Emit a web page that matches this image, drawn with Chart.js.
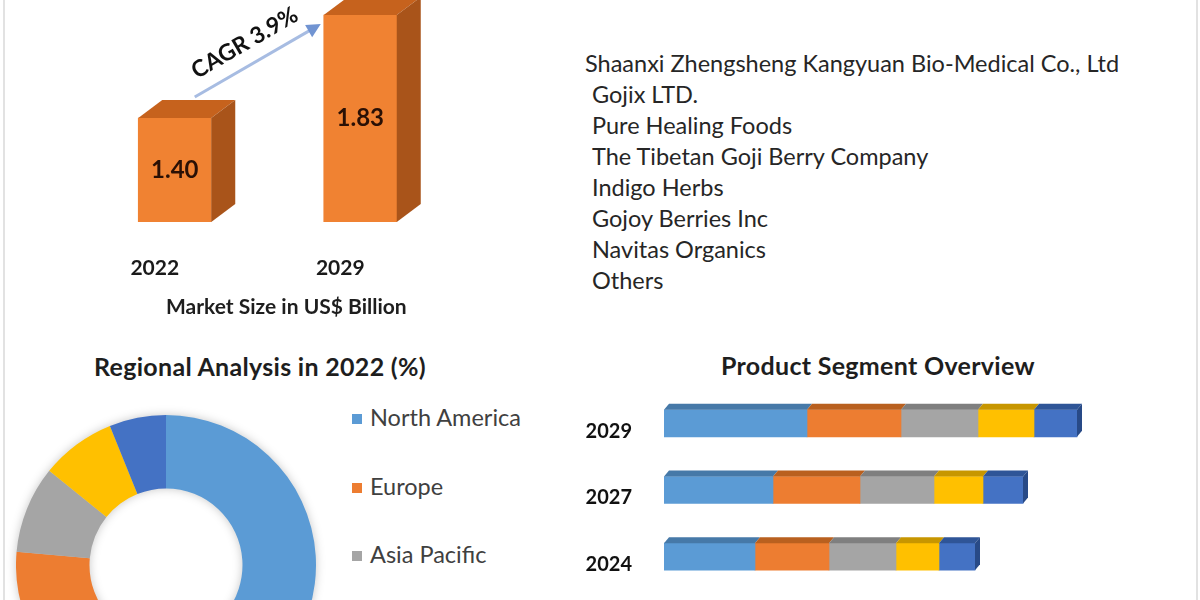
<!DOCTYPE html>
<html>
<head>
<meta charset="utf-8">
<title>Goji Berry Market</title>
<script src="https://cdn.jsdelivr.net/npm/chart.js@4.4.0/dist/chart.umd.min.js"></script>
<style>
html, body { margin: 0; padding: 0; width: 1200px; height: 600px; overflow: hidden; background: #fff; }
body { position: relative; font-family: Lato, "Open Sans", sans-serif; color: #262626; }
.abs { position: absolute; }
.edge { position: absolute; top: 0; width: 2px; height: 600px; background: #e2e2e2; }
.company { position: absolute; font-size: 23.5px; line-height: 30px; white-space: nowrap; color: #262626; }
.heading { position: absolute; font-weight: bold; font-size: 25px; letter-spacing: 0.3px; white-space: nowrap; color: #1e1e1e; }
.axis-title { position: absolute; font-weight: bold; font-size: 21px; white-space: nowrap; color: #1e1e1e; }
.legend-item { position: absolute; font-size: 23.5px; line-height: 30px; white-space: nowrap; color: #404040; }
.legend-item span { display: inline-block; width: 10px; height: 10px; margin-right: 8px; vertical-align: 2px; }
#regionCanvas { filter: drop-shadow(0 0 5px rgba(0,0,0,0.22)); }
</style>
</head>
<body>
<div class="edge" style="left:3px"></div>
<div class="edge" style="left:1196px"></div>

<canvas id="sizeCanvas" class="abs" width="576" height="330" style="left:0;top:0"></canvas>
<div class="axis-title" style="left:166px;top:293px">Market Size in US$ Billion</div>
<div id="companyList"></div>

<div class="heading" style="left:94px;top:351px">Regional Analysis in 2022 (%)</div>
<canvas id="regionCanvas" class="abs" width="300" height="300" style="left:16px;top:415px"></canvas>
<div id="regionLegend"></div>

<div class="heading" style="left:721px;top:350px">Product Segment Overview</div>
<canvas id="segmentCanvas" class="abs" width="630" height="220" style="left:570px;top:380px"></canvas>

<script>
//размер рынка
const sizeYears = ['2022', '2029'];
const sizeValues = [1.40, 1.83];
const cagrText = 'CAGR 3.9%';

//ключевые игроки
const companies = [
    'Shaanxi Zhengsheng Kangyuan Bio-Medical Co., Ltd',
    'Gojix LTD.',
    'Pure Healing Foods',
    'The Tibetan Goji Berry Company',
    'Indigo Herbs',
    'Gojoy Berries Inc',
    'Navitas Organics',
    'Others'
];

//регионы 2022 (%)
const regions = ['North America', 'Europe', 'Asia Pacific', 'Middle East & Africa', 'South America'];
const regionShares = [48.0, 28.4, 9.4, 8.1, 6.1];

//продуктовые сегменты (относительные величины)
const segmentYears = ['2029', '2027', '2024'];
const segmentNames = ['Segment 1', 'Segment 2', 'Segment 3', 'Segment 4', 'Segment 5'];
const segment1 = [143, 109, 91];
const segment2 = [94, 87, 74];
const segment3 = [77, 74, 67];
const segment4 = [56, 49, 43];
const segment5 = [43, 40, 36];

const officeColors = ['#5B9BD5', '#ED7D31', '#A5A5A5', '#FFC000', '#4472C4'];
const officeDark = ['#4679A8', '#B9601F', '#7F7F7F', '#C79600', '#2F5597'];
const fontFamily = 'Lato, "Open Sans", sans-serif';

//список компаний
const list = document.getElementById('companyList');
companies.forEach((name, i) => {
    const div = document.createElement('div');
    div.className = 'company';
    div.style.left = (i === 0 ? 585 : 592) + 'px';
    div.style.top = (48 + i * 31) + 'px';
    div.textContent = name;
    list.appendChild(div);
});

//3D столбики размера рынка
const box3d = {
    id: 'box3d',
    afterDatasetsDraw(chart) {
        const ctx = chart.ctx;
        const bars = chart.getDatasetMeta(0).data;
        const bottom = chart.chartArea.bottom;
        const dx = 24, dy = 18;
        ctx.save();
        bars.forEach((bar, i) => {
            const half = bar.width / 2;
            const l = bar.x - half, r = bar.x + half, t = bar.y, b = bottom;
            ctx.fillStyle = '#C6621D';
            ctx.beginPath();
            ctx.moveTo(l, t); ctx.lineTo(l + dx, t - dy); ctx.lineTo(r + dx, t - dy); ctx.lineTo(r, t);
            ctx.closePath(); ctx.fill();
            ctx.fillStyle = '#A9541A';
            ctx.beginPath();
            ctx.moveTo(r, t); ctx.lineTo(r + dx, t - dy); ctx.lineTo(r + dx, b - dy); ctx.lineTo(r, b);
            ctx.closePath(); ctx.fill();

            ctx.fillStyle = '#2A1005';
            ctx.font = 'bold 24px ' + fontFamily;
            ctx.textAlign = 'center';
            ctx.textBaseline = 'middle';
            ctx.fillText(sizeValues[i].toFixed(2), bar.x, (t + b) / 2);
        });

        //стрелка CAGR
        const a = bars[0], c = bars[1];
        const x1 = a.x + 20, y1 = a.y - 21;
        const x2 = c.x - c.width / 2 - 3, y2 = c.y + 9;
        const ang = Math.atan2(y2 - y1, x2 - x1);
        ctx.strokeStyle = '#A7BCE2';
        ctx.lineWidth = 3;
        ctx.beginPath();
        ctx.moveTo(x1, y1);
        ctx.lineTo(x2 - 10 * Math.cos(ang), y2 - 10 * Math.sin(ang));
        ctx.stroke();
        ctx.fillStyle = '#7194D2';
        ctx.beginPath();
        ctx.moveTo(x2, y2);
        ctx.lineTo(x2 - 14 * Math.cos(ang) + 7 * Math.sin(ang), y2 - 14 * Math.sin(ang) - 7 * Math.cos(ang));
        ctx.lineTo(x2 - 14 * Math.cos(ang) - 7 * Math.sin(ang), y2 - 14 * Math.sin(ang) + 7 * Math.cos(ang));
        ctx.closePath(); ctx.fill();

        const mx = (x1 + x2) / 2 + 18 * Math.sin(ang) - 4;
        const my = (y1 + y2) / 2 - 18 * Math.cos(ang) - 2;
        ctx.translate(mx, my);
        ctx.rotate(ang);
        ctx.fillStyle = '#111';
        ctx.font = 'bold 23px ' + fontFamily;
        ctx.fillText(cagrText, 0, 0);
        ctx.restore();
    }
};

const sizeChart = new Chart(document.getElementById('sizeCanvas'), {
    type: 'bar',
    data: {
        labels: sizeYears,
        datasets: [{
            label: 'Market Size',
            data: sizeValues,
            backgroundColor: '#F08232',
            barThickness: 73
        }]
    },
    options: {
        responsive: false,
        animation: false,
        layout: { padding: { left: 82, right: 123, top: 0, bottom: 50 } },
        plugins: {
            legend: { display: false },
            tooltip: { enabled: false }
        },
        scales: {
            x: {
                grid: { display: false, drawTicks: false },
                border: { display: false },
                afterFit(scale) {
                    scale.height = 58;
                    scale.paddingTop = 0; scale.paddingBottom = 0;
                },
                ticks: {
                    color: '#1a1a1a',
                    font: { family: fontFamily, size: 21, weight: 'bold' },
                    padding: 34,
                    labelOffset: -20
                }
            },
            y: { display: false, min: 0.966, max: 1.893 }
        }
    },
    plugins: [box3d]
});

//кольцевая диаграмма по регионам
const regionChart = new Chart(document.getElementById('regionCanvas'), {
    type: 'doughnut',
    data: {
        labels: regions,
        datasets: [{
            data: regionShares,
            backgroundColor: officeColors,
            borderWidth: 0,
            hoverOffset: 0
        }]
    },
    options: {
        responsive: false,
        animation: false,
        cutout: '51%',
        plugins: { legend: { display: false }, tooltip: { enabled: false } }
    }
});

const legendBox = document.getElementById('regionLegend');
regions.forEach((name, i) => {
    const top = 402 + i * 68.5;
    if (top + 30 > 600) return;
    const div = document.createElement('div');
    div.className = 'legend-item';
    div.style.left = '352px';
    div.style.top = top + 'px';
    div.innerHTML = '<span style="background:' + officeColors[i] + '"></span>';
    div.appendChild(document.createTextNode(name));
    legendBox.appendChild(div);
});

//3D горизонтальные полосы
const slab3d = {
    id: 'slab3d',
    afterDatasetsDraw(chart) {
        const ctx = chart.ctx;
        const dx = 5, dy = 6;
        const last = chart.data.datasets.length - 1;
        ctx.save();
        chart.data.datasets.forEach((ds, di) => {
            chart.getDatasetMeta(di).data.forEach(el => {
                const l = Math.min(el.base, el.x), r = Math.max(el.base, el.x);
                const t = el.y - el.height / 2, b = el.y + el.height / 2;
                ctx.fillStyle = officeDark[di];
                ctx.beginPath();
                ctx.moveTo(l, t); ctx.lineTo(l + dx, t - dy); ctx.lineTo(r + dx, t - dy); ctx.lineTo(r, t);
                ctx.closePath(); ctx.fill();
                if (di === last) {
                    ctx.fillStyle = '#284A87';
                    ctx.beginPath();
                    ctx.moveTo(r, t); ctx.lineTo(r + dx, t - dy); ctx.lineTo(r + dx, b - dy); ctx.lineTo(r, b);
                    ctx.closePath(); ctx.fill();
                }
            });
        });
        ctx.restore();
    }
};

const segmentData = [segment1, segment2, segment3, segment4, segment5];
const segmentChart = new Chart(document.getElementById('segmentCanvas'), {
    type: 'bar',
    data: {
        labels: segmentYears,
        datasets: segmentData.map((vals, i) => ({
            label: segmentNames[i],
            data: vals,
            backgroundColor: officeColors[i],
            barThickness: 27
        }))
    },
    options: {
        indexAxis: 'y',
        responsive: false,
        animation: false,
        layout: { padding: { top: 10, bottom: 10, left: 0, right: 0 } },
        plugins: { legend: { display: false }, tooltip: { enabled: false } },
        scales: {
            x: { stacked: true, display: false, min: 0, max: 536 },
            y: {
                stacked: true,
                grid: { display: false, drawTicks: false },
                border: { display: false },
                afterFit(scale) {
                    scale.width = 94;
                    scale.paddingTop = 0; scale.paddingBottom = 0;
                },
                ticks: {
                    color: '#111',
                    font: { family: fontFamily, size: 20, weight: 'bold' },
                    padding: 32,
                    labelOffset: 8
                }
            }
        }
    },
    plugins: [slab3d]
});
</script>
</body>
</html>
